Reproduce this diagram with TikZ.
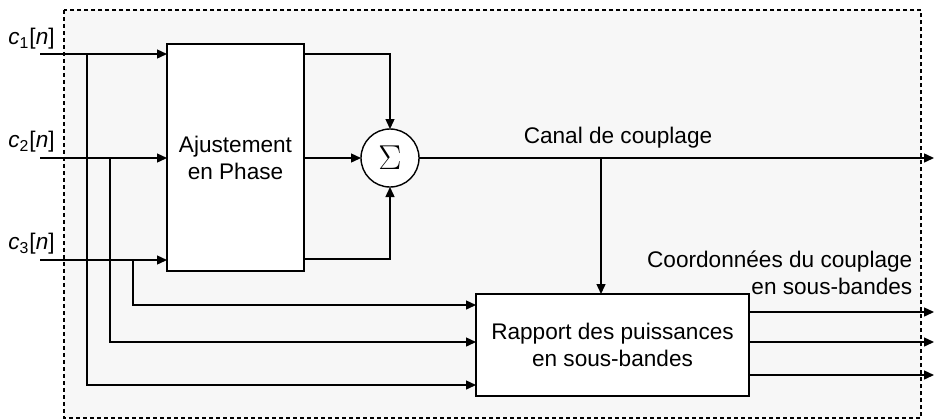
\documentclass[tikz,border=0pt]{standalone}
\usepackage{fontspec}
\setmainfont{Liberation Sans}
\usetikzlibrary{positioning, arrows.meta, calc}

\begin{document}
\begin{tikzpicture}[x=0.5pt, y=-0.5pt, line width=0.7pt,
    every node/.style={font=\fontsize{11.3}{13.5}\selectfont},
    blockbox/.style={draw, fill=white, inner sep=0pt, outer sep=0pt, align=center},
    sig/.style={-{Triangle[length=5pt,width=4.5pt]}}]
    \useasboundingbox (0,0) rectangle (935,419);
    \draw[line width=0.55pt, dash pattern=on 2pt off 1.5pt, fill={rgb,255:red,247;green,247;blue,247}] (64,10) rectangle (921,418);

    \node[blockbox, minimum width=68.5pt, minimum height=113.5pt] (ajust) at (235.5,157.5) {Ajustement\\en Phase};
    \node[blockbox, circle, minimum size=29pt] (sum) at (390,158) {\fontsize{17}{17}\selectfont$\Sigma$};
    \node[blockbox, minimum width=136.5pt, minimum height=51pt] (rapport) at (612.5,345) {Rapport des puissances\\en sous-bandes};

    \node (c1) at (31.5,39) {\textit{c}\textsubscript{1}[\textit{n}]};
    \node (c2) at (31.5,142) {\textit{c}\textsubscript{2}[\textit{n}]};
    \node (c3) at (31.5,244) {\textit{c}\textsubscript{3}[\textit{n}]};
    \node (canal) at (618,138) {Canal de couplage};
    \node[anchor=east, align=right, inner sep=0pt] (coord) at (913,273) {Coordonnées du couplage\\en sous-bandes};

    % inputs
    \coordinate (in1) at (40,54);
    \coordinate (in2) at (40,158);
    \coordinate (in3) at (40,260);
    \foreach \i in {1,2,3} {
        \draw[sig] (in\i) -- (in\i -| ajust.west);
    }
    \coordinate (b1) at (87,54);
    \coordinate (b2) at (110,158);
    \coordinate (b3) at (133,260);
    \draw[sig] (b1) |- (rapport.west |- 0,385);
    \draw[sig] (b2) |- (rapport.west |- 0,342);
    \draw[sig] (b3) |- (rapport.west |- 0,305);

    % sum
    \draw[sig] (ajust.east |- 0,54) -| (sum.north);
    \draw[sig] (ajust.east |- sum) -- (sum.west);
    \draw[sig] (ajust.east |- 0,259) -| (sum.south);

    \coordinate (out) at (934,158);
    \coordinate (tap) at (601,158);
    \draw[sig] (sum.east) -- (out);
    \draw[sig] (tap) -- (tap |- rapport.north);

    % outputs
    \foreach \y in {312,342,375} {
        \draw[sig] (rapport.east |- 0,\y) -- (934,\y);
    }
\end{tikzpicture}
\end{document}
